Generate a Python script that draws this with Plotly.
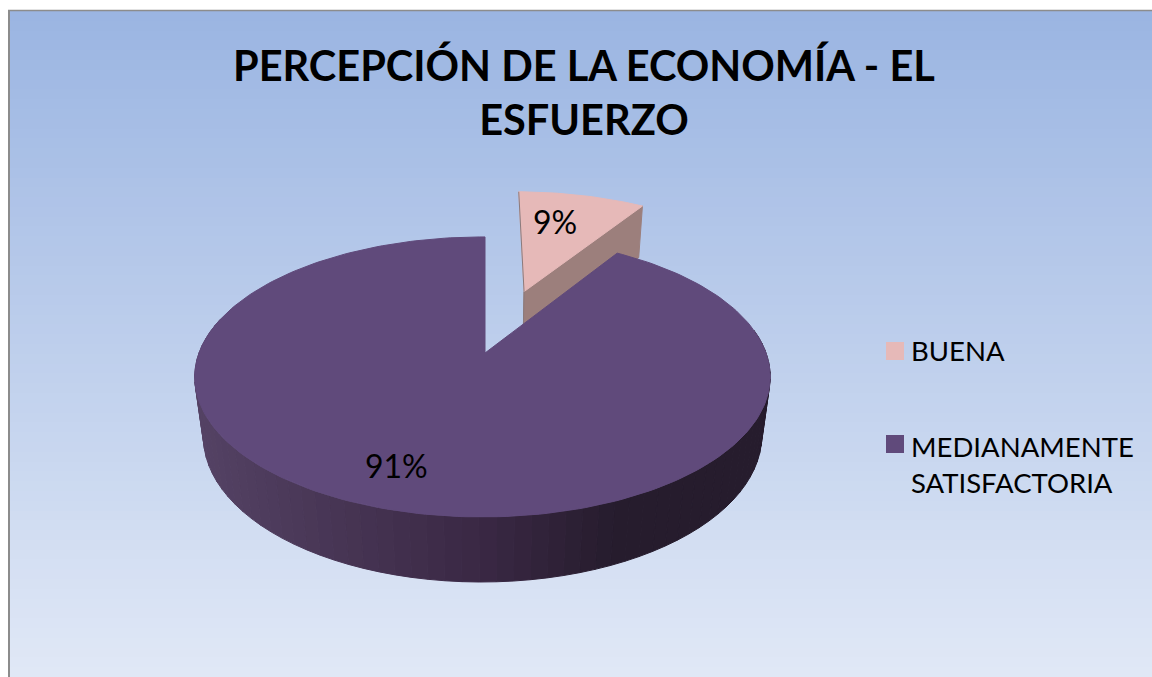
import numpy as np
import plotly.graph_objects as go

# --- data ---
TITLE = "PERCEPCIÓN DE LA ECONOMÍA - EL<br>ESFUERZO"
CATEGORIES = ["BUENA", "MEDIANAMENTE<br>SATISFACTORIA"]
VALUES = [9, 91]

# --- style ---
W, H = 1152, 677
TOP_COLORS = ["#E6B9B8", "#604A7B"]
CUT_WALL = "#9C7F7C"
BG_TOP, BG_BOTTOM = (155, 181, 226), (224, 232, 246)
BORDER = "#8C8C8C"
FONT = "Lato"

# --- perspective model of the disc ---
OX, OY = 485.0, 353.0
B, A, K, D, M, Q = 283.5, 135.9, 0.171, 60.8, 0.03, 0.0087
EXPLODE = 0.50


def project(u, v, h=0.0):
    w = 1 - K * v + M * h + Q * u
    return (OX + B * u / w, OY + (A * v + D * h) / w)


def rim(theta, cu=0.0, cv=0.0, h=0.0):
    """theta in degrees, clockwise from the back of the disc."""
    t = np.radians(theta)
    return project(cu + np.sin(t), cv - np.cos(t), h)


def poly(points, color, width=1.0):
    xs, ys = zip(*points)
    return go.Scatter(
        x=list(xs) + [xs[0]], y=list(ys) + [ys[0]], mode="lines", fill="toself",
        fillcolor=color, line=dict(color=color, width=width),
        hoverinfo="skip", showlegend=False,
    )


def wall_color(x):
    stops_x = [200, 485, 620, 800]
    stops = [(84, 66, 100), (58, 40, 68), (38, 28, 45), (38, 28, 45)]
    return "rgb(%d,%d,%d)" % tuple(np.interp(x, stops_x, [s[i] for s in stops]) for i in range(3))


fig = go.Figure()

# background gradient panel
rows = 68
ys = np.linspace(11, H, rows + 1)
z = [[i] for i in range(rows)]
colorscale = [[0, "rgb(%d,%d,%d)" % BG_TOP], [1, "rgb(%d,%d,%d)" % BG_BOTTOM]]
fig.add_trace(go.Heatmap(x=[10, W], y=ys, z=z, colorscale=colorscale, showscale=False, hoverinfo="skip"))

total = sum(VALUES)
sweep = 360.0 * VALUES[0] / total
mid = np.radians(sweep / 2)
cu, cv = EXPLODE * np.sin(mid) + 0.01, -EXPLODE * np.cos(mid) - 0.01

# exploded slice: cut wall, then top face
fig.add_trace(poly([project(cu, cv), rim(sweep, cu, cv), rim(sweep, cu, cv, 1), project(cu, cv, 1)], CUT_WALL))
arc = [rim(t, cu, cv) for t in np.linspace(0, sweep, 30)]
fig.add_trace(poly([project(cu, cv)] + arc, TOP_COLORS[0]))
lx, ly = zip(project(cu, cv, 1), project(cu, cv), rim(0, cu, cv))
fig.add_trace(go.Scatter(x=lx, y=ly, mode="lines", line=dict(color="#8A7A7C", width=1),
                         hoverinfo="skip", showlegend=False))

# big slice: outer wall in bands, then top face
edges = np.linspace(80, 285, 70)
for a, b in zip(edges[:-1], edges[1:]):
    quad = [rim(a), rim(b), rim(b, h=1), rim(a, h=1)]
    fig.add_trace(poly(quad, wall_color(rim((a + b) / 2)[0])))
arc = [rim(t) for t in np.linspace(sweep, 360, 240)]
fig.add_trace(poly([project(0, 0)] + arc, TOP_COLORS[1]))

# legend swatches
fig.add_trace(go.Scatter(
    x=[895, 895], y=[351, 444], mode="markers",
    marker=dict(symbol="square", size=18, color=TOP_COLORS, line=dict(width=0)),
    hoverinfo="skip", showlegend=False,
))

axis = dict(visible=False, fixedrange=True)
fig.update_layout(
    width=W, height=H, margin=dict(l=0, r=0, t=0, b=0),
    paper_bgcolor="white", plot_bgcolor="white",
    xaxis=dict(range=[0, W], **axis),
    yaxis=dict(range=[H, 0], **axis),
    font=dict(family=FONT, color="black"),
    shapes=[
        dict(type="line", x0=9, x1=9, y0=10, y1=H, line=dict(color=BORDER, width=2)),
        dict(type="line", x0=8, x1=W, y0=10.5, y1=10.5, line=dict(color=BORDER, width=1.5)),
    ],
    annotations=[
        dict(x=584, y=92, text=TITLE, showarrow=False, xanchor="center", yanchor="middle",
             font=dict(size=41.5, family=FONT, color="black", weight="bold"), align="center"),
        dict(x=555, y=221, text=f"{VALUES[0]}%", showarrow=False, font=dict(size=32)),
        dict(x=396, y=465, text=f"{VALUES[1]}%", showarrow=False, font=dict(size=32)),
        dict(x=909, y=350, text=CATEGORIES[0], showarrow=False, xanchor="left", align="left",
             font=dict(size=27.5)),
        dict(x=909, y=464, text=CATEGORIES[1], showarrow=False, xanchor="left", align="left",
             font=dict(size=27.5)),
    ],
)

fig.write_html("out.html", config=dict(displayModeBar=False),
               post_script="document.body.style.margin='0';document.body.style.overflow='hidden';")
